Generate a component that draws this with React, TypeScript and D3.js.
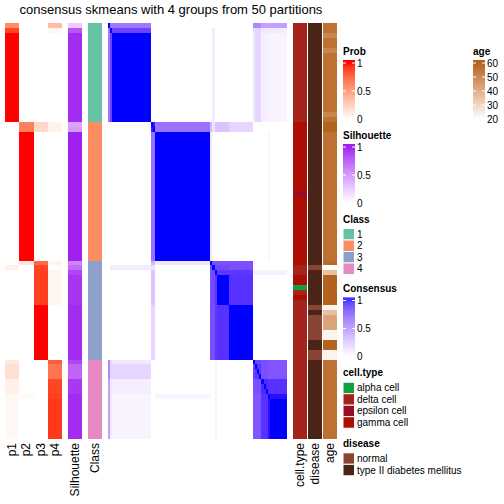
import React from 'react';
import * as d3 from 'd3';

// ---------------- data (84 samples, ordered as in the reference) ----------------
const classes = [
  1,1,1,1,1,1,1,1,1,1,1,1,1,1,1,1,1,1,1,1,
  2,2,2,2,2,2,2,2,2,2,2,2,2,2,2,2,2,2,2,2,2,2,2,2,2,2,2,2,
  3,3,3,3,3,3,3,3,3,3,3,3,3,3,3,3,3,3,3,3,
  4,4,4,4,4,4,4,4,4,4,4,4,4,4,4,4,
];
const p1 = [
  0.6,0.88,1,1,1,1,1,1,1,1,1,1,1,1,1,1,1,1,1,1,
  0,0,0,0,0,0,0,0,0,0,0,0,0,0,0,0,0,0,0,0,0,0,0,0,0,0,0,0,
  0,0.08,0,0,0,0,0,0,0,0,0,0,0,0,0,0,0,0,0,0,
  0.12,0.17,0.17,0.17,0.08,0.08,0.08,0.04,0.04,0.04,0.04,0.04,0.04,0.04,0.04,0.04,
];
const p2 = [
  0,0,0,0,0,0,0,0,0,0,0,0,0,0,0,0,0,0,0,0,
  0.65,0.65,1,1,1,1,1,1,1,1,1,1,1,1,1,1,1,1,1,1,1,1,1,1,1,1,1,1,
  0.12,0,0,0,0,0,0,0,0,0,0,0,0,0,0,0,0,0,0,0,
  0,0,0,0,0,0,0,0.03,0,0,0,0,0,0,0,0,
];
const p3 = [
  0,0,0,0,0,0,0,0,0,0,0,0,0,0,0,0,0,0,0,0,
  0.22,0.2,0,0,0,0,0,0,0,0,0,0,0,0,0,0,0,0,0,0,0,0,0,0,0,0,0,0,
  0.75,0.88,0.9,0.9,0.9,0.9,0.9,0.9,0.9,1,1,1,1,1,1,1,1,1,1,1,
  0,0,0,0,0,0,0,0,0,0,0,0,0,0,0,0,
];
const p4 = [
  0.35,0.05,0,0,0,0,0,0,0,0,0,0,0,0,0,0,0,0,0,0,
  0.07,0.07,0,0,0,0,0,0,0,0,0,0,0,0,0,0,0,0,0,0,0,0,0,0,0,0,0,0,
  0.06,0,0.05,0.05,0.05,0.05,0.05,0.05,0.05,0,0,0,0,0,0,0,0,0,0,0,
  0.8,0.7,0.7,0.7,0.88,0.88,0.88,0.9,0.92,0.92,0.92,0.92,0.92,0.92,0.92,0.92,
];
const silhouette = [
  0.25,0.82,0.97,0.97,0.97,0.97,0.97,0.97,0.97,0.97,0.97,0.97,0.97,0.97,0.97,0.97,0.97,0.97,0.97,0.97,
  0.45,0.5,1,1,1,1,1,1,1,1,1,1,1,1,1,1,1,1,1,1,1,1,1,1,1,1,1,1,
  0.6,0.72,0.88,0.94,0.94,0.94,0.94,0.94,0.94,0.97,0.97,0.97,0.97,0.97,0.97,0.97,0.97,0.97,0.97,0.97,
  0.88,0.75,0.75,0.75,0.93,0.93,0.93,0.97,0.97,0.97,0.97,0.97,0.97,0.97,0.97,0.97,
];
const cellTypeLevels = ['alpha cell', 'delta cell', 'epsilon cell', 'gamma cell'];
const cellTypeColors = ['#14A042', '#A3241A', '#951026', '#AC0E03'];
const cellType = [
  1,1,1,1,1,1,1,1,1,1,1,1,1,1,1,1,1,1,1,1,
  3,3,3,3,3,3,3,3,3,3,3,3,3,3,2,3,3,3,3,3,3,3,3,3,3,3,3,3,
  3,1,1,3,3,0,1,3,1,1,1,1,1,1,1,1,1,1,1,1,
  1,1,1,1,1,1,1,1,1,1,1,1,1,1,1,1,
];
const diseaseLevels = ['normal', 'type II diabetes mellitus'];
const diseaseColors = ['#8A4434', '#4A2319'];
const disease = [
  1,1,1,1,1,1,1,1,1,1,1,1,1,1,1,1,1,1,1,1,
  1,1,1,1,1,1,1,1,1,1,1,1,1,1,1,1,1,1,1,1,1,1,1,1,1,1,1,1,
  1,0,1,1,1,1,1,1,1,0,1,0,0,0,0,0,1,1,0,0,
  1,1,1,1,1,1,1,1,1,1,1,1,1,1,1,1,
];
const age = [
  56,56,51,56,56,51,56,56,56,56,56,56,56,56,56,56,56,56,51,56,
  60,60,56,56,56,56,56,56,56,56,56,56,56,56,56,56,56,56,56,56,56,56,56,56,56,56,56,56,
  58,21,36,60,60,60,60,60,60,23,36,43,43,43,23,23,60,60,23,23,
  56,56,56,56,56,56,56,56,56,56,56,56,56,56,56,56,
];
// consensus: each sample belongs to a sub-group; consensus between sub-groups
const consensusGroup = [
  0,1,2,2,2,2,2,2,2,2,2,2,2,2,2,2,2,2,2,2,
  3,3,4,4,4,4,4,4,4,4,4,4,4,4,4,4,4,4,4,4,4,4,4,4,4,4,4,4,
  5,6,7,8,8,8,8,8,8,9,9,9,9,9,9,9,9,9,9,9,
  10,11,11,11,12,12,12,13,14,14,14,14,14,14,14,14,
];
const groupConsensus = [
  [1,0.58,0.58,0,0,0,0,0,0,0,0.5,0.5,0.4,0.4,0.4],
  [0.58,1,0.8,0,0,0,0.08,0,0,0,0.15,0.18,0.1,0.08,0.08],
  [0.58,0.8,1,0,0,0,0.08,0,0,0,0.1,0.17,0.07,0.04,0.05],
  [0,0,0,0.95,0.6,0.3,0.12,0.25,0.25,0.17,0,0,0,0,0],
  [0,0,0,0.6,1,0.1,0,0,0,0,0,0,0,0.04,0],
  [0,0,0,0.3,0.1,1,0.75,0.75,0.75,0.75,0,0,0,0,0],
  [0,0.08,0.08,0.12,0,0.75,1,0.78,0.78,0.75,0,0,0,0,0],
  [0,0,0,0.25,0,0.75,0.78,1,0.85,0.85,0.06,0.06,0.06,0.06,0.06],
  [0,0,0,0.25,0,0.75,0.78,0.85,1,0.87,0,0,0,0,0],
  [0,0,0,0.17,0,0.75,0.75,0.85,0.87,1,0,0,0,0,0],
  [0.5,0.15,0.1,0,0,0,0,0.06,0,0,1,0.8,0.75,0.72,0.72],
  [0.5,0.18,0.17,0,0,0,0,0.06,0,0,0.8,0.85,0.75,0.72,0.72],
  [0.4,0.1,0.07,0,0,0,0,0.06,0,0,0.75,0.75,0.9,0.87,0.87],
  [0.4,0.08,0.04,0,0.04,0,0,0.06,0,0,0.72,0.72,0.87,1,0.97],
  [0.4,0.08,0.05,0,0,0,0,0.06,0,0,0.72,0.72,0.87,0.97,1],
];
const classLevels = [1, 2, 3, 4];
const classColors = ['#66C2A5', '#FC8D62', '#8DA0CB', '#E78AC3'];
const probTicks = [0, 0.5, 1];
const ageTicks = [20, 30, 40, 50, 60];
const title = 'consensus skmeans with 4 groups from 50 partitions';

// ---------------- layout ----------------
const FONT = 'Liberation Sans, Arial, Helvetica, sans-serif';
const TOP = 23;
const BOTTOM = 438.7;

export default function App() {
  const n = classes.length;
  const idx = d3.range(n);
  const y = d3.scaleBand<number>().domain(idx).range([TOP, BOTTOM]);
  const xCons = d3.scaleBand<number>().domain(idx).range([108, 287]);
  const probCols = ['p1', 'p2', 'p3', 'p4'];
  const probVals = [p1, p2, p3, p4];
  const xProb = d3.scaleBand<string>().domain(probCols).range([5, 62.33]);

  const probColor = d3.scaleLinear<string>().domain([0, 1]).range(['#ffffff', '#ff0000']).interpolate(d3.interpolateLab).clamp(true);
  const silColor = d3.scaleLinear<string>().domain([0, 1]).range(['#ffffff', '#a020f0']).interpolate(d3.interpolateLab).clamp(true);
  const consColor = d3.scaleLinear<string>().domain([0, 1]).range(['#ffffff', '#0000ff']).interpolate(d3.interpolateLab).clamp(true);
  const ageColor = d3.scaleLinear<string>().domain([20, 60]).range(['#ffffff', '#b3631b']).interpolate(d3.interpolateLab).clamp(true);

  const cells: React.ReactNode[] = [];
  const h = y.bandwidth();

  probVals.forEach((vals, k) => {
    idx.forEach((i) => {
      cells.push(<rect key={`p${k}-${i}`} x={xProb(probCols[k])} y={y(i)} width={xProb.bandwidth()} height={h} fill={probColor(vals[i])} />);
    });
  });
  idx.forEach((i) => {
    cells.push(<rect key={`s-${i}`} x={68} y={y(i)} width={14.33} height={h} fill={silColor(silhouette[i])} />);
    cells.push(<rect key={`c-${i}`} x={87.7} y={y(i)} width={14.33} height={h} fill={classColors[classLevels.indexOf(classes[i])]} />);
  });
  idx.forEach((i) => {
    idx.forEach((j) => {
      const v = i === j ? 1 : groupConsensus[consensusGroup[i]][consensusGroup[j]];
      cells.push(<rect key={`m-${i}-${j}`} x={xCons(j)} y={y(i)} width={xCons.bandwidth()} height={h} fill={consColor(v)} />);
    });
  });
  idx.forEach((i) => {
    cells.push(<rect key={`ct-${i}`} x={292.7} y={y(i)} width={14.3} height={h} fill={cellTypeColors[cellType[i]]} />);
    cells.push(<rect key={`d-${i}`} x={308} y={y(i)} width={14} height={h} fill={diseaseColors[disease[i]]} />);
    cells.push(<rect key={`a-${i}`} x={323} y={y(i)} width={14.3} height={h} fill={ageColor(age[i])} />);
  });

  const bottomLabels: [string, number][] = [
    ...probCols.map((c) => [c, (xProb(c) as number) + xProb.bandwidth() / 2] as [string, number]),
    ['Silhouette', 75.2],
    ['Class', 94.9],
    ['cell.type', 299.9],
    ['disease', 315],
    ['age', 330.2],
  ];

  const contLegend = (key: string, name: string, x: number, T: number, domain: [number, number], ticks: number[], color: (v: number) => string, fmt: (v: number) => string) => {
    const pos = d3.scaleLinear().domain(domain).range([T + 68, T + 12]);
    const strips = d3.range(T + 9, T + 71, 1);
    return (
      <g key={key}>
        <text x={x} y={T} dominantBaseline="central" fontWeight="bold" fontSize={10} fontFamily={FONT}>{name}</text>
        {strips.map((sy) => (
          <rect key={sy} x={x} y={sy} width={12} height={1.05} fill={color(pos.invert(sy + 0.5))} />
        ))}
        {ticks.map((t) => (
          <g key={t}>
            <line x1={x} x2={x + 3} y1={pos(t)} y2={pos(t)} stroke="#ffffff" strokeWidth={1} />
            <line x1={x + 9} x2={x + 12} y1={pos(t)} y2={pos(t)} stroke="#ffffff" strokeWidth={1} />
            <text x={x + 14} y={pos(t)} dominantBaseline="central" fontSize={10} fontFamily={FONT}>{fmt(t)}</text>
          </g>
        ))}
      </g>
    );
  };

  const discLegend = (key: string, name: string, x: number, T: number, labels: string[], colors: string[]) => (
    <g key={key}>
      <text x={x} y={T} dominantBaseline="central" fontWeight="bold" fontSize={10} fontFamily={FONT}>{name}</text>
      {labels.map((l, k) => (
        <g key={l}>
          <rect x={x} y={T + 9.5 + k * 11.5} width={11.5} height={11.5} fill={colors[k]} stroke="#ffffff" strokeWidth={1} />
          <text x={x + 14} y={T + 9.5 + k * 11.5 + 5.75} dominantBaseline="central" fontSize={10} fontFamily={FONT}>{l}</text>
        </g>
      ))}
    </g>
  );

  const fmtProb = (v: number) => (v === 0.5 ? '0.5' : String(v));

  return (
    <svg width={504} height={504} style={{ position: 'absolute', left: 0, top: 0, display: 'block', background: '#ffffff' }}>
      <rect x={0} y={0} width={504} height={504} fill="#ffffff" />
      <text x={171} y={13.5} textAnchor="middle" fontSize={13} fontFamily={FONT}>{title}</text>
      <g shapeRendering="crispEdges">{cells}</g>
      {bottomLabels.map(([t, cx]) => (
        <text key={t} transform={`translate(${cx},443) rotate(-90)`} textAnchor="end" dominantBaseline="central" fontSize={12} fontFamily={FONT}>{t}</text>
      ))}
      {contLegend('prob', 'Prob', 343, 51, [0, 1], probTicks, (v) => probColor(v), fmtProb)}
      {contLegend('sil', 'Silhouette', 343, 135, [0, 1], probTicks, (v) => silColor(v), fmtProb)}
      {discLegend('class', 'Class', 343, 219, classLevels.map(String), classColors)}
      {contLegend('cons', 'Consensus', 343, 288.5, [0, 1], probTicks, (v) => consColor(v), fmtProb)}
      {discLegend('ct', 'cell.type', 343, 372.7, cellTypeLevels, cellTypeColors)}
      {discLegend('dis', 'disease', 343, 443.3, diseaseLevels, diseaseColors)}
      {contLegend('age', 'age', 473, 51, [20, 60], ageTicks, (v) => ageColor(v), (v) => String(v))}
    </svg>
  );
}
